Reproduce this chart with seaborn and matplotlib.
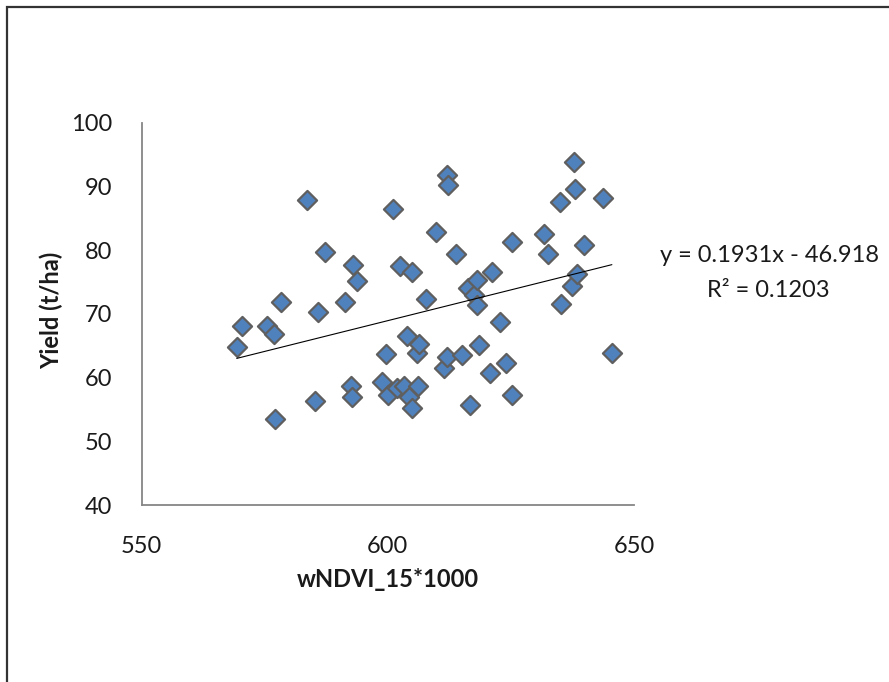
import seaborn as sns
import matplotlib.pyplot as plt
import matplotlib.patches as mpatches
import numpy as np
import pandas as pd

# wNDVI_15*1000 vs yield
wndvi = [569.3, 570.3, 575.4, 576.9, 578.3, 577.0, 583.5, 585.2, 585.9, 587.3,
         591.3, 592.5, 592.7, 592.9, 593.8, 598.9, 599.6, 600.1, 601.0, 601.8,
         602.4, 603.3, 603.9, 604.2, 604.8, 605.0, 606.0, 606.3, 606.2, 607.8,
         609.7, 611.5, 612.0, 612.3, 612.1, 613.9, 615.1, 616.2, 616.7, 617.4,
         618.1, 618.1, 618.5, 620.7, 621.1, 622.8, 623.9, 625.3, 625.3, 631.8,
         632.6, 635.1, 635.0, 637.4, 638.4, 637.9, 638.1, 639.8, 643.7, 645.5]
yield_tha = [64.8, 68.1, 68.1, 66.9, 71.9, 53.5, 87.8, 56.4, 70.3, 79.7,
             71.9, 58.7, 57.0, 77.6, 75.1, 59.3, 63.7, 57.2, 86.4, 58.3,
             77.5, 58.7, 66.5, 56.9, 76.5, 55.3, 63.9, 65.2, 58.7, 72.4,
             82.8, 61.5, 91.8, 90.3, 63.2, 79.4, 63.5, 74.1, 55.7, 73.0,
             71.4, 75.3, 65.1, 60.8, 76.5, 68.7, 62.3, 81.3, 57.2, 82.5,
             79.4, 71.5, 87.6, 74.3, 76.3, 93.8, 89.6, 80.8, 88.2, 63.9]

# Excel linear trendline as printed on the chart
slope = 0.1931
intercept = -46.918
r_squared = 0.1203

df = pd.DataFrame({"wNDVI_15*1000": wndvi, "Yield (t/ha)": yield_tha})

sns.set_style("white")
plt.rcParams["font.family"] = ["Lato", "DejaVu Sans"]

fig = plt.figure(figsize=(8.89, 6.82), dpi=100)
ax = fig.add_axes([0.1594, 0.2595, 0.5538, 0.5605])

# trendline across the data range
xs = np.array([min(wndvi), max(wndvi)])
ax.plot(xs, slope * xs + intercept, color="black", lw=0.8, zorder=3)

sns.scatterplot(data=df, x="wNDVI_15*1000", y="Yield (t/ha)", ax=ax,
                marker="D", s=95, color="#4F81BD", edgecolor="#5f5f5f",
                linewidth=1.6, zorder=2)

ax.set_xlim(550, 650)
ax.set_ylim(40, 100)
ax.set_xticks([550, 600, 650])
ax.set_yticks(range(40, 101, 10))

for side in ["top", "right"]:
    ax.spines[side].set_visible(False)
for side in ["left", "bottom"]:
    ax.spines[side].set_color("#868686")
    ax.spines[side].set_linewidth(1.3)

ax.tick_params(axis="both", direction="out", length=7, width=1.3,
               color="#868686", labelsize=17, labelcolor="#1a1a1a")
ax.tick_params(axis="y", pad=14)
ax.tick_params(axis="x", pad=15)

ax.set_xlabel("wNDVI_15*1000", fontsize=17, fontweight="bold", color="#1a1a1a")
ax.set_ylabel("Yield (t/ha)", fontsize=17, fontweight="bold", color="#1a1a1a")
ax.xaxis.set_label_coords(0.50, -0.165)
ax.yaxis.set_label_coords(-0.16, 0.51)

fig.text(770 / 889, 1 - 255 / 682, f"y = {slope}x - {abs(intercept)}",
         ha="center", va="center", fontsize=17, color="#1a1a1a")
fig.text(768 / 889, 1 - 290 / 682, f"R\u00b2 = {r_squared}",
         ha="center", va="center", fontsize=17, color="#1a1a1a")

# chart area frame (only left and top edges visible in the crop)
frame = mpatches.Rectangle((7 / 889, -0.1), 1.2, 1 - 7 / 682 + 0.1,
                           transform=fig.transFigure, fill=False,
                           edgecolor="#333333", lw=1.6)
fig.patches.append(frame)

fig.savefig("out.png", dpi=100)
